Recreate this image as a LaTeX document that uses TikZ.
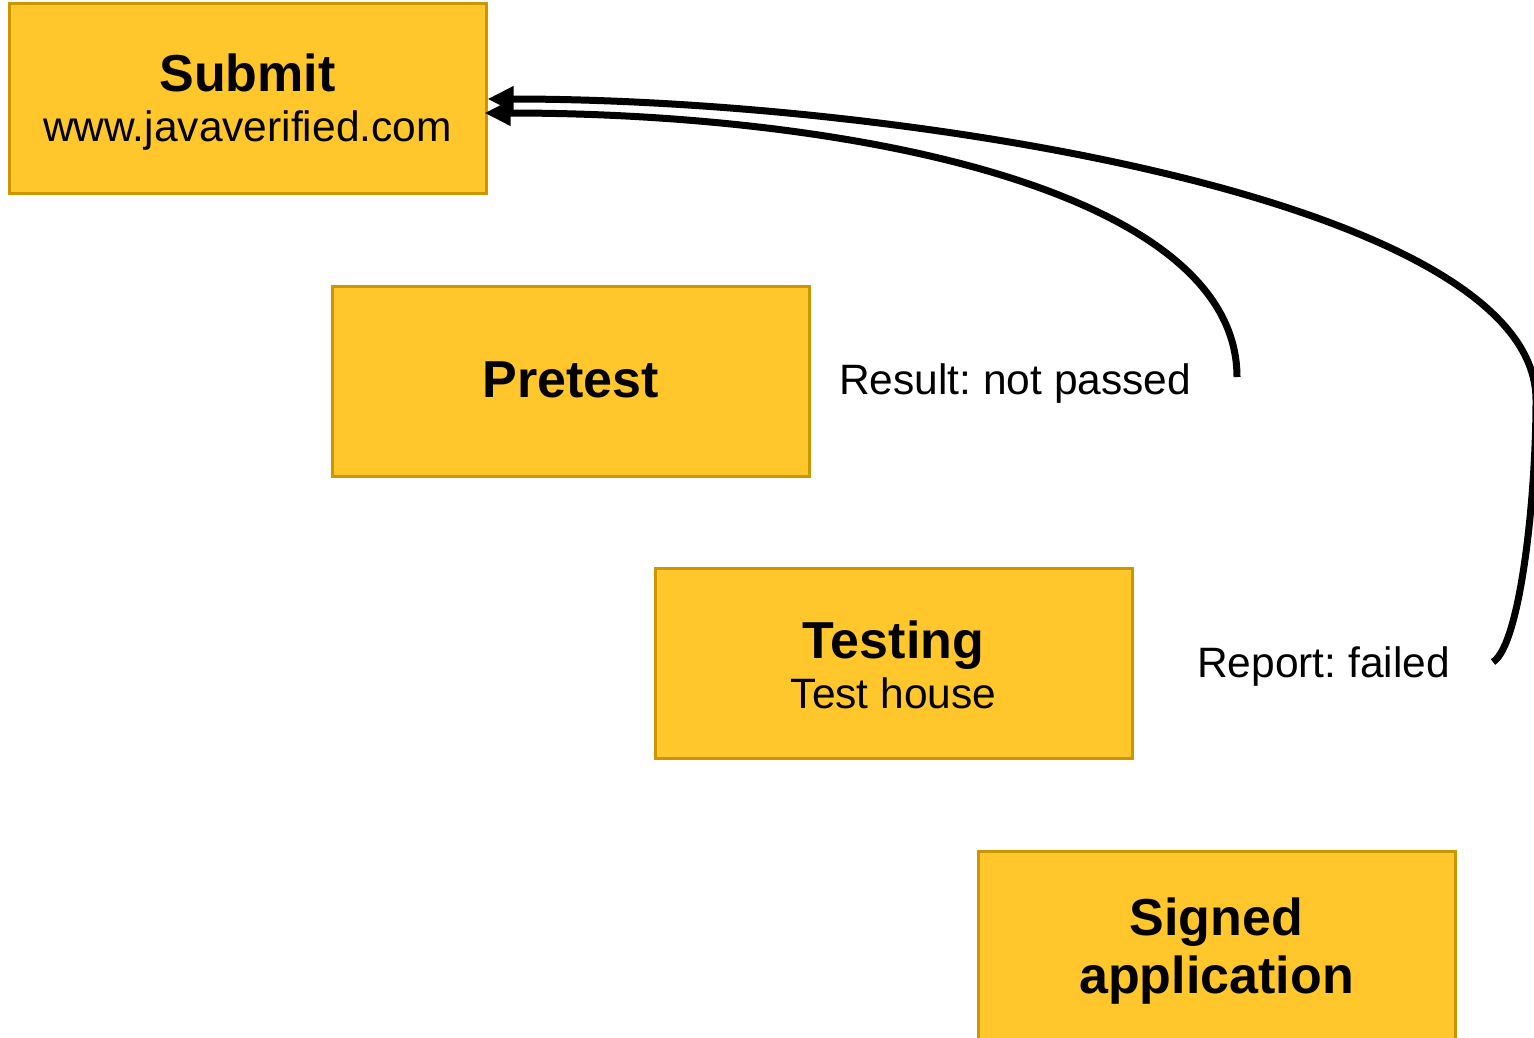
\documentclass[tikz,border=0pt]{standalone}
\usepackage{fontspec}
\setmainfont{Liberation Sans}
\usetikzlibrary{arrows.meta}
\definecolor{boxfill}{RGB}{255,199,44}
\definecolor{boxline}{RGB}{204,150,0}
\newcommand{\bigb}{\fontsize{52}{58}\selectfont\bfseries}
\newcommand{\smallr}{\fontsize{42.5}{48}\selectfont\mdseries}
\tikzset{
  stagebox/.style={draw=boxline, fill=boxfill, line width=3pt, minimum width=477pt, minimum height=190pt, inner sep=0pt},
  boxtext/.style={inner sep=0pt, align=center, text=black},
  backarrow/.style={line width=7pt, -{Triangle[length=26pt,width=24pt]}},
  lbl/.style={font=\smallr, inner sep=0pt, anchor=west}
}
\begin{document}
\frenchspacing
\begin{tikzpicture}[x=1pt,y=-1pt]
\useasboundingbox (0,0) rectangle (1534,1037);
\clip (0,0) rectangle (1534,1037);
\node[stagebox] (submit) at (247.5,98) {};
\node[stagebox] (pretest) at (570.5,381) {};
\node[stagebox] (testing) at (893.5,663.5) {};
\node[stagebox] (signed) at (1216.5,946.5) {};
\node[boxtext, font=\smallr] (submitT) at (247.5,102) {{\bigb Submit}\\[2pt]www.javaverified.com};
\node[boxtext, font=\bigb] (pretestT) at (570.5,380) {Pretest};
\node[boxtext, font=\smallr] (testingT) at (893.5,664.5) {{\bigb Testing}\\[2pt]Test house};
\node[boxtext, font=\bigb] (signedT) at (1216.5,951.5) {Signed\\application};
\node[lbl] (res) at (839,384) {Result: not passed};
\node[lbl] (rep) at (1197,666) {Report: failed};
\coordinate (e1) at (1237,377);
\coordinate (e2) at (1493,662);
\coordinate (m2) at (1536,400);
\draw[backarrow] (e1) .. controls (1237,190) and (850,113) .. ([xshift=-3pt]submit.east |- 0,113);
\draw[backarrow] (e2) .. controls (1520,645) and (1536,500) .. (m2) .. controls (1536,200) and (900,99) .. (submit.east |- 0,99);
\end{tikzpicture}
\end{document}
